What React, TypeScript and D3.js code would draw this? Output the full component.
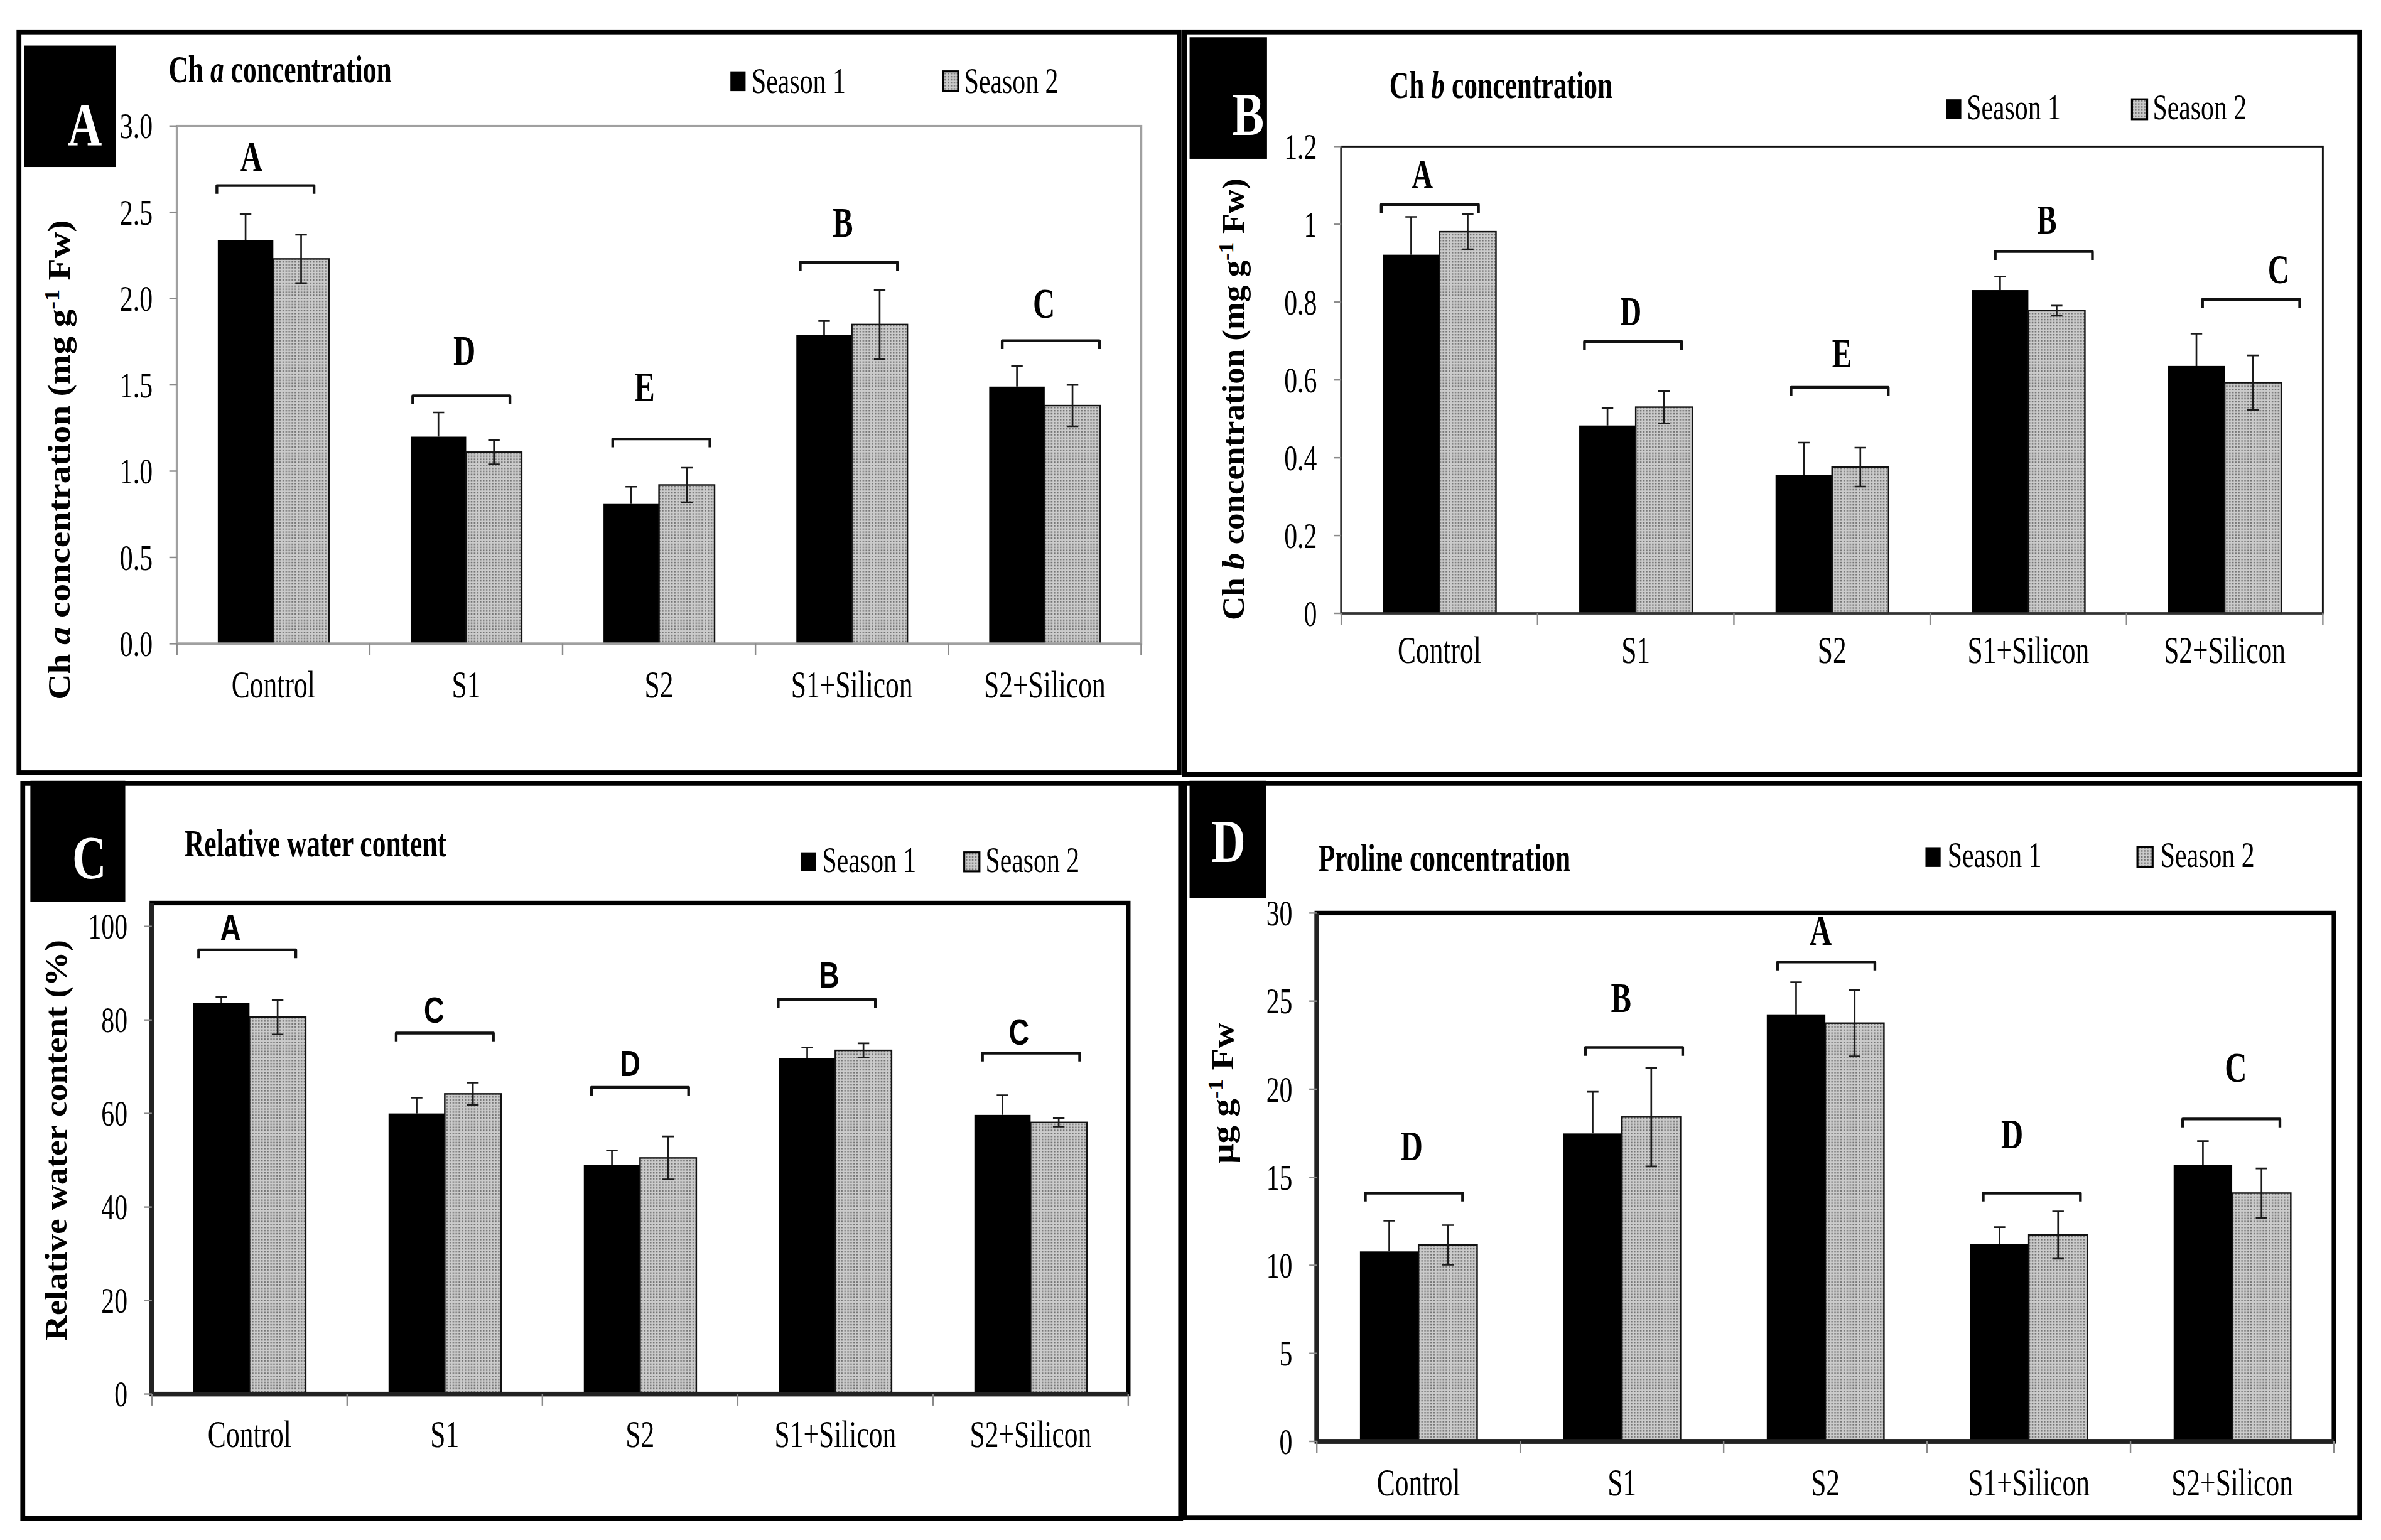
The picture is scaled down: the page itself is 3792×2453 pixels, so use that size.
import React from 'react';
import * as d3 from 'd3';

const categories = ['Control', 'S1', 'S2', 'S1+Silicon', 'S2+Silicon'];
const seasons = ['Season 1', 'Season 2'];

// A: Ch a concentration (mg g-1 Fw)
const chlAS1 = [2.34, 1.2, 0.81, 1.79, 1.49];
const chlAS2 = [2.23, 1.11, 0.92, 1.85, 1.38];
const chlAErr1 = [0.15, 0.14, 0.1, 0.08, 0.12];
const chlAErr2 = [0.14, 0.07, 0.1, 0.2, 0.12];
const chlALetters = ['A', 'D', 'E', 'B', 'C'];
const chlABracket = [2.655, 1.437, 1.187, 2.21, 1.756];
const chlALetterLevel = [2.74, 1.615, 1.405, 2.36, 1.89];
const chlATicks = [0, 0.5, 1, 1.5, 2, 2.5, 3];

// B: Ch b concentration (mg g-1 Fw)
const chlBS1 = [0.922, 0.483, 0.356, 0.831, 0.636];
const chlBS2 = [0.981, 0.53, 0.376, 0.778, 0.593];
const chlBErr1 = [0.097, 0.045, 0.083, 0.035, 0.083];
const chlBErr2 = [0.045, 0.042, 0.05, 0.013, 0.07];
const chlBLetters = ['A', 'D', 'E', 'B', 'C'];
const chlBBracket = [1.051, 0.699, 0.581, 0.93, 0.807];
const chlBLetterLevel = [1.092, 0.741, 0.632, 0.977, 0.849];
const chlBTicks = [0, 0.2, 0.4, 0.6, 0.8, 1, 1.2];

// C: relative water content (%)
const rwcS1 = [83.6, 60.0, 49.0, 71.8, 59.7];
const rwcS2 = [80.6, 64.2, 50.5, 73.5, 58.1];
const rwcErr1 = [1.3, 3.4, 3.1, 2.3, 4.2];
const rwcErr2 = [3.7, 2.4, 4.6, 1.5, 0.9];
const rwcLetters = ['A', 'C', 'D', 'B', 'C'];
const rwcBracket = [95.0, 77.2, 65.6, 84.4, 72.9];
const rwcLetterLevel = [97.1, 79.4, 68.0, 87.0, 74.7];
const rwcTicks = [0, 20, 40, 60, 80, 100];

// D: proline (ug g-1 Fw)
const proS1 = [10.79, 17.49, 24.25, 11.21, 15.7];
const proS2 = [11.16, 18.42, 23.75, 11.72, 14.1];
const proErr1 = [1.74, 2.36, 1.82, 0.96, 1.35];
const proErr2 = [1.12, 2.8, 1.88, 1.34, 1.4];
const proLetters = ['D', 'B', 'A', 'D', 'C'];
const proBracket = [14.1, 22.37, 27.22, 14.1, 18.31];
const proLetterLevel = [15.98, 24.39, 28.21, 16.63, 20.41];
const proTicks = [0, 5, 10, 15, 20, 25, 30];

const SERIF = '"Liberation Serif", "Times New Roman", serif';
const SANS = '"Liberation Sans", Arial, sans-serif';
const W = 1568;
const H = (1568 * 2453) / 3792;
const SQ = 0.72; // the original figure is squeezed horizontally

function CText({ x, y, size, anchor = 'start', weight = 'normal', family = SERIF, sx = SQ, dy, children }: any) {
  return (
    <g transform={`translate(${x},${y}) scale(${sx},1)`}>
      <text textAnchor={anchor} fontSize={size} fontWeight={weight} fontFamily={family} fill="#000" dy={dy}>
        {children}
      </text>
    </g>
  );
}

const panels = [
  {
    id: 'A',
    border: [12.5, 21, 776.5, 509],
    tag: { box: [16, 30, 76.5, 110], cx: 55.8, base: 95.5 },
    title: { x: 111, base: 54, text: <>Ch <tspan fontStyle="italic">a</tspan> concentration</> },
    legend: { y0: 47, h: 13, base: 61, x1: 481, tx1: 495, x2: 621, tx2: 635 },
    plot: { left: 116.5, right: 751.5, top: 83, bottom: 424 },
    yMax: 3, frameMax: 3, ticks: chlATicks, fmt: (d: number) => d.toFixed(1),
    frameStroke: '#a0a0a0', frameWidth: 1.5, axisStroke: '#a0a0a0', axisWidth: 1.5,
    catBase: 459.5,
    yLabel: { x: 46, y: 303, len: 316, text: <>Ch <tspan fontStyle="italic">a</tspan> concentration (mg g<tspan dy={-7} fontSize={14}>-1</tspan><tspan dy={7}> Fw)</tspan></> },
    s1: chlAS1, s2: chlAS2, e1: chlAErr1, e2: chlAErr2,
    letters: chlALetters, bracket: chlABracket, letterLevel: chlALetterLevel,
    letterFamily: SERIF, letterSize: 28, letterSx: SQ,
    bracketDx: [-5.2, -3.2, 1.5, -2, 4], letterDx: [-9.3, 2, -11, -4, -4.5],
  },
  {
    id: 'B',
    border: [780, 21, 1554, 510],
    tag: { box: [783.4, 24.5, 834.4, 104.6], cx: 822, base: 89 },
    title: { x: 915, base: 64.4, text: <>Ch <tspan fontStyle="italic">b</tspan> concentration</> },
    legend: { y0: 65.4, h: 13.1, base: 78.5, x1: 1281.6, tx1: 1295.2, x2: 1404, tx2: 1417.7 },
    plot: { left: 883.3, right: 1529.7, top: 96.5, bottom: 404 },
    yMax: 1.2, frameMax: 1.2, ticks: chlBTicks, fmt: (d: number) => String(d),
    frameStroke: '#111', frameWidth: 1.2, axisStroke: '#333', axisWidth: 1.4,
    catBase: 436.5,
    yLabel: { x: 819, y: 263, len: 291, text: <>Ch <tspan fontStyle="italic">b</tspan> concentration (mg g<tspan dy={-7} fontSize={14}>-1</tspan><tspan dy={7}> Fw)</tspan></> },
    s1: chlBS1, s2: chlBS2, e1: chlBErr1, e2: chlBErr2,
    letters: chlBLetters, bracket: chlBBracket, letterLevel: chlBLetterLevel,
    letterFamily: SERIF, letterSize: 27, letterSx: SQ,
    bracketDx: [-6.3, -1.8, 5, 10.2, 17.4], letterDx: [-5, -1.5, 1.5, 2, 18],
  },
  {
    id: 'C',
    border: [15, 516, 777.5, 1000],
    tag: { box: [20, 514.3, 82.5, 594], cx: 58.8, base: 578.6 },
    title: { x: 121.5, base: 564, text: <>Relative water content</> },
    legend: { y0: 561.4, h: 12.5, base: 574.4, x1: 527.5, tx1: 541.5, x2: 635, tx2: 649 },
    plot: { left: 100, right: 743, top: 610.2, bottom: 918.2 },
    yMax: 100, frameMax: 105, ticks: rwcTicks, fmt: (d: number) => String(d),
    frameStroke: '#000', frameWidth: 3, axisStroke: '#222', axisWidth: 3,
    catBase: 953,
    yLabel: { x: 44, y: 751, len: 264, text: <>Relative water content (%)</> },
    s1: rwcS1, s2: rwcS2, e1: rwcErr1, e2: rwcErr2,
    letters: rwcLetters, bracket: rwcBracket, letterLevel: rwcLetterLevel,
    letterFamily: SANS, letterSize: 24, letterSx: 0.78,
    bracketDx: [-1.5, 0, 0, -5.6, 0.3], letterDx: [-11, -7, -6.5, 1.5, -8],
  },
  {
    id: 'D',
    border: [780, 516, 1554, 999.5],
    tag: { box: [783.4, 514.3, 833.9, 591.7], cx: 809, base: 567.9 },
    title: { x: 868.2, base: 573.4, text: <>Proline concentration</> },
    legend: { y0: 558, h: 13, base: 571.2, x1: 1268, tx1: 1282.6, x2: 1407.6, tx2: 1422.8 },
    plot: { left: 867.2, right: 1537, top: 601.4, bottom: 949.4 },
    yMax: 30, frameMax: 30, ticks: proTicks, fmt: (d: number) => String(d),
    frameStroke: '#000', frameWidth: 3, axisStroke: '#222', axisWidth: 3,
    catBase: 985,
    yLabel: { x: 812, y: 720, len: 93, text: <>μg g<tspan dy={-7} fontSize={14}>-1</tspan><tspan dy={7}> Fw</tspan></> },
    s1: proS1, s2: proS2, e1: proErr1, e2: proErr2,
    letters: proLetters, bracket: proBracket, letterLevel: proLetterLevel,
    letterFamily: SERIF, letterSize: 28, letterSx: SQ,
    bracketDx: [-3, 8, 0.6, 2, -0.6], letterDx: [-1.5, -8.6, -3.7, -13, 3],
  },
];

function Panel({ p }: { p: any }) {
  const x0 = d3.scaleBand<string>().domain(categories).range([p.plot.left, p.plot.right]);
  const bw = x0.bandwidth();
  const x1 = d3.scaleBand<string>().domain(seasons).range([bw * 0.212, bw * 0.788]);
  const y = d3.scaleLinear().domain([0, p.yMax]).range([p.plot.bottom, p.plot.top]);
  const frameTop = y(p.frameMax);
  const [bx0, by0, bx1, by1] = p.border;
  const [tx0, ty0, tx1, ty1] = p.tag.box;
  const cap = 3.8;
  const bracketHalf = 32;
  const bracketDrop = 5.5;
  const vals = [p.s1, p.s2];
  const errs = [p.e1, p.e2];
  const lg = p.legend;

  return (
    <g>
      <rect x={bx0} y={by0} width={bx1 - bx0} height={by1 - by0} fill="#fff" stroke="#000" strokeWidth={3.2} />
      <rect x={tx0} y={ty0} width={tx1 - tx0} height={ty1 - ty0} fill="#000" />
      <g transform={`translate(${p.tag.cx},${p.tag.base}) scale(0.78,1)`}>
        <text textAnchor="middle" fontFamily={SERIF} fontWeight="bold" fontSize={40} fill="#fff">{p.id}</text>
      </g>

      <CText x={p.title.x} y={p.title.base} size={25} weight="bold">{p.title.text}</CText>

      {/* legend */}
      <rect x={lg.x1} y={lg.y0} width={10} height={lg.h} fill="#000" />
      <CText x={lg.tx1} y={lg.base} size={24}>{seasons[0]}</CText>
      <rect x={lg.x2} y={lg.y0} width={10} height={lg.h} fill="url(#dots)" stroke="#000" strokeWidth={1.3} />
      <CText x={lg.tx2} y={lg.base} size={24}>{seasons[1]}</CText>

      {/* bars */}
      {categories.map((c, i) =>
        seasons.map((s, k) => {
          const bx = (x0(c) as number) + (x1(s) as number);
          const v = vals[k][i];
          return (
            <rect
              key={c + s}
              x={bx}
              y={y(v)}
              width={x1.bandwidth()}
              height={y(0) - y(v)}
              fill={k === 0 ? '#000' : 'url(#dots)'}
              stroke={k === 0 ? 'none' : '#111'}
              strokeWidth={1}
            />
          );
        })
      )}

      {/* error bars: season 1 only shows the upper whisker above its black bar */}
      {categories.map((c, i) =>
        seasons.map((s, k) => {
          const cx = (x0(c) as number) + (x1(s) as number) + x1.bandwidth() / 2;
          const v = vals[k][i];
          const e = errs[k][i];
          const hi = y(v + e);
          const lo = k === 0 ? y(v) : y(v - e);
          const d =
            k === 0
              ? `M${cx},${lo}V${hi}M${cx - cap},${hi}H${cx + cap}`
              : `M${cx},${lo}V${hi}M${cx - cap},${hi}H${cx + cap}M${cx - cap},${lo}H${cx + cap}`;
          return <path key={'e' + c + s} d={d} stroke="#1a1a1a" strokeWidth={1.1} fill="none" />;
        })
      )}

      {/* frame and axes */}
      <rect
        x={p.plot.left}
        y={frameTop}
        width={p.plot.right - p.plot.left}
        height={p.plot.bottom - frameTop}
        fill="none"
        stroke={p.frameStroke}
        strokeWidth={p.frameWidth}
      />
      <line x1={p.plot.left} x2={p.plot.right} y1={y(0)} y2={y(0)} stroke={p.axisStroke} strokeWidth={p.axisWidth} />
      <line x1={p.plot.left} x2={p.plot.left} y1={frameTop} y2={y(0)} stroke={p.axisStroke} strokeWidth={p.axisWidth} />

      {p.ticks.map((t: number) => (
        <g key={'t' + t}>
          <line x1={p.plot.left - 5} x2={p.plot.left} y1={y(t)} y2={y(t)} stroke="#8a8a8a" strokeWidth={1} />
          <CText x={p.plot.left - 16} y={y(t)} size={24} anchor="end" dy="0.34em">{p.fmt(t)}</CText>
        </g>
      ))}

      {[...categories.map((c) => x0(c) as number), p.plot.right].map((bxv, j) => (
        <line key={'xt' + j} x1={bxv} x2={bxv} y1={y(0)} y2={y(0) + 7.6} stroke="#8a8a8a" strokeWidth={1} />
      ))}

      {categories.map((c) => (
        <CText key={'cl' + c} x={(x0(c) as number) + bw / 2} y={p.catBase} size={25} anchor="middle">{c}</CText>
      ))}

      {/* significance brackets */}
      {categories.map((c, i) => {
        const cx = (x0(c) as number) + bw / 2 + p.bracketDx[i];
        const by = y(p.bracket[i]);
        return (
          <g key={'b' + c}>
            <path
              d={`M${cx - bracketHalf},${by + bracketDrop}V${by}H${cx + bracketHalf}V${by + bracketDrop}`}
              stroke="#111"
              strokeWidth={1.8}
              fill="none"
              strokeLinejoin="round"
            />
            <CText
              x={cx + p.letterDx[i]}
              y={y(p.letterLevel[i])}
              size={p.letterSize}
              anchor="middle"
              weight="bold"
              family={p.letterFamily}
              sx={p.letterSx}
            >
              {p.letters[i]}
            </CText>
          </g>
        );
      })}

      {/* y axis title */}
      <text
        transform={`translate(${p.yLabel.x},${p.yLabel.y}) rotate(-90)`}
        textAnchor="middle"
        fontFamily={SERIF}
        fontWeight="bold"
        fontSize={21}
        textLength={p.yLabel.len}
        lengthAdjust="spacingAndGlyphs"
        fill="#000"
      >
        {p.yLabel.text}
      </text>
    </g>
  );
}

export default function App() {
  return (
    <>
      <style>{'body{margin:0;overflow:hidden}'}</style>
      <svg width={3792} height={2453} viewBox={`0 0 ${W} ${H}`} style={{ display: 'block' }}>
        <defs>
          <pattern id="dots" width={2} height={2} patternUnits="userSpaceOnUse">
            <rect width={2} height={2} fill="#cbcbcb" />
            <rect width={1} height={1} fill="#747474" />
          </pattern>
        </defs>
        <rect width={W} height={H} fill="#fff" />
        {panels.map((p) => (
          <Panel key={p.id} p={p} />
        ))}
      </svg>
    </>
  );
}
